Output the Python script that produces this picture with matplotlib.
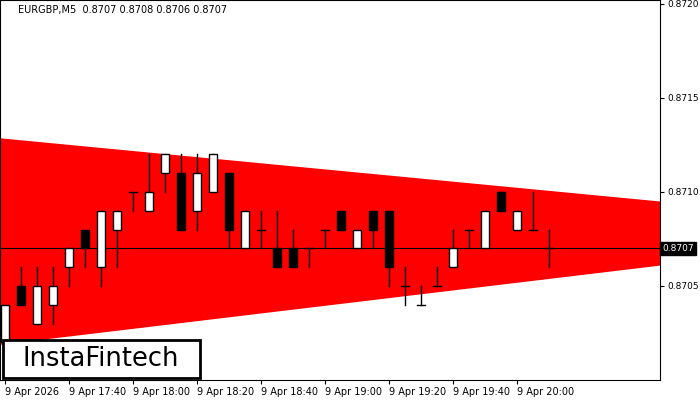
import matplotlib
matplotlib.use("Agg")
import matplotlib.pyplot as plt
from matplotlib.patches import Rectangle, Polygon

opens  = [.8702,.8705,.8703,.8704,.8706,.8708,.8706,.8708,.8710,.8709,.8711,.8711,.8709,.8710,.8711,.8707,.8708,
          .8707,.8707,.8707,.8708,.8709,.8707,.8709,.8709,.8705,.8704,.8705,.8706,.8708,.8707,.8710,.8708,.8708,.8707]
closes = [.8704,.8704,.8705,.8705,.8707,.8707,.8709,.8709,.8710,.8710,.8712,.8708,.8711,.8712,.8708,.8709,.8708,
          .8706,.8706,.8707,.8708,.8708,.8708,.8708,.8706,.8705,.8704,.8705,.8707,.8708,.8709,.8709,.8709,.8708,.8707]
highs  = [.8704,.8706,.8706,.8706,.8707,.8708,.8709,.8709,.8710,.8712,.8712,.8712,.8712,.8712,.8711,.8709,.8709,
          .8709,.8708,.8707,.8708,.8709,.8708,.8709,.8709,.8706,.8705,.8706,.8708,.8708,.8709,.8710,.8709,.8710,.8708]
lows   = [.8702,.8704,.8703,.8703,.8705,.8706,.8705,.8706,.8709,.8709,.8710,.8708,.8708,.8710,.8707,.8707,.8707,
          .8706,.8706,.8706,.8707,.8708,.8707,.8707,.8705,.8704,.8704,.8705,.8706,.8707,.8707,.8709,.8708,.8708,.8706]
tick_idx = [0, 4, 8, 12, 16, 20, 24, 28, 32]
tick_labels = ["9 Apr 2026", "9 Apr 17:40", "9 Apr 18:00", "9 Apr 18:20", "9 Apr 18:40",
               "9 Apr 19:00", "9 Apr 19:20", "9 Apr 19:40", "9 Apr 20:00"]
upper_line = [(-0.3125, 0.871285), (40.94, 0.870949)]
lower_line = [(-0.3125, 0.870187), (40.94, 0.870608)]
last_price = 0.8707
yticks = [0.8705, 0.8710, 0.8715, 0.8720]

fig = plt.figure(figsize=(7, 4), dpi=100)
ax = fig.add_axes([0, 0.05, 660/700, 0.95])
x0, x1 = -0.3125, 40.94
ax.set_xlim(x0, x1)
ax.set_ylim(0.8700, 0.87202)

ax.add_patch(Polygon([upper_line[0], upper_line[1], lower_line[1], lower_line[0]],
                     closed=True, facecolor='#ff0000', edgecolor='none', zorder=1))
ax.axhline(last_price, color='black', lw=0.8, zorder=2)

w = 0.55
for i, (o, c, h, l) in enumerate(zip(opens, closes, highs, lows)):
    ax.plot([i, i], [l, h], color='black', lw=1, zorder=3)
    if o == c:
        ax.plot([i - w/2, i + w/2], [o, o], color='black', lw=1, zorder=4)
    else:
        ax.add_patch(Rectangle((i - w/2, min(o, c)), w, abs(c - o),
                               facecolor='white' if c > o else 'black',
                               edgecolor='black', lw=1, zorder=4))

ax.yaxis.tick_right()
ax.set_yticks(yticks)
ax.set_yticklabels([f"{v:.4f}" for v in yticks], fontsize=6.5)
ax.set_xticks(tick_idx)
ax.set_xticklabels(tick_labels, fontsize=7, ha='left')
ax.tick_params(axis='x', length=3, pad=2)
ax.tick_params(axis='y', length=3, pad=2)
for s in ax.spines.values():
    s.set_linewidth(0.8)

ax.text(1.003, last_price, "0.8707", transform=ax.get_yaxis_transform(),
        fontsize=6.5, color='white', va='center', ha='left',
        bbox=dict(boxstyle='square,pad=0.25', facecolor='black', edgecolor='black'))
ax.text(18/660, 0.975, "EURGBP,M5  0.8707 0.8708 0.8706 0.8707", transform=ax.transAxes,
        fontsize=7, va='center', ha='left')

fig.patches.append(Rectangle((3/700, 22/400), 197/700, 38/400, transform=fig.transFigure,
                             facecolor='white', edgecolor='black', lw=2, zorder=10))
fig.text(101/700, 41/400, "InstaFintech", fontsize=18.5, ha='center', va='center', zorder=11)

fig.savefig("out.png", dpi=100)
